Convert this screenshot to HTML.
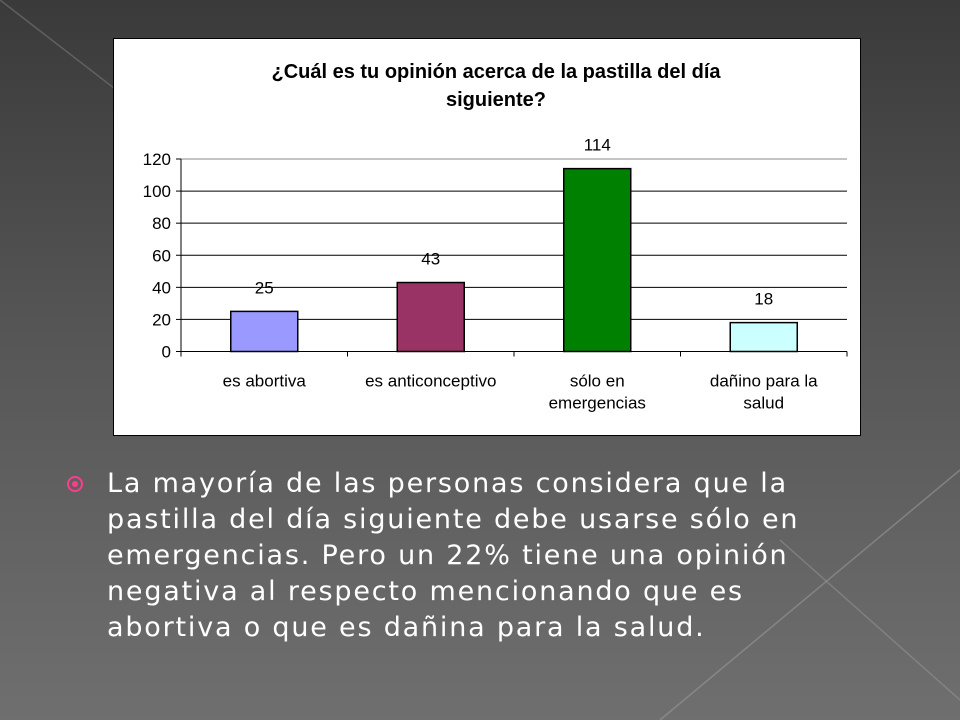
<!DOCTYPE html>
<html><head><meta charset="utf-8"><style>
body{margin:0;width:960px;height:720px;overflow:hidden;background:linear-gradient(180deg,#3a3a3a 0%,#555 45%,#6f6f6f 100%);font-family:"Liberation Sans",sans-serif;position:relative}
#bgl{position:absolute;left:0;top:0}
#chartbox{position:absolute;left:113px;top:38px;width:746px;height:396px;background:#fff;border:1px solid #000;}
#txt{position:absolute;left:107px;top:466px;width:840px;color:#fff;font-family:"DejaVu Sans",sans-serif;font-size:27px;line-height:36px;letter-spacing:1.8px;white-space:nowrap}
#bullet{position:absolute;left:67px;top:476px;width:16px;height:16px;border-radius:50%;border:2px solid #ff3c8c;box-sizing:border-box}
#bullet:after{content:"";position:absolute;left:3px;top:3px;width:6px;height:6px;border-radius:50%;background:#ff3c8c}
</style></head><body>
<svg id="bgl" width="960" height="720">
<line x1="0" y1="0" x2="220" y2="170" stroke="#777" stroke-width="1.5" opacity="0.6"/>
<line x1="960" y1="470" x2="660" y2="720" stroke="#999" stroke-width="1.5" opacity="0.6"/>
<line x1="780" y1="540" x2="960" y2="700" stroke="#999" stroke-width="1.5" opacity="0.5"/>
</svg>
<div id="chartbox">
<svg width="746" height="396" id="chart">
<text x="382" y="39" text-anchor="middle" font-size="20" font-weight="bold">¿Cuál es tu opinión acerca de la pastilla del día</text>
<text x="382" y="67" text-anchor="middle" font-size="20" font-weight="bold">siguiente?</text>
<g id="g"></g>
</svg>
</div>
<div id="bullet"></div>
<div id="txt">La mayoría de las personas considera que la<br>pastilla del día siguiente debe usarse sólo en<br>emergencias. Pero un 22% tiene una opinión<br>negativa al respecto mencionando que es<br>abortiva o que es dañina para la salud.</div>
<script>
const categories=[["es abortiva"],["es anticonceptivo"],["sólo en","emergencias"],["dañino para la","salud"]];
const values=[25,43,114,18];
const colors=["#9999ff","#993366","#008000","#ccffff"];
const ticks=[0,20,40,60,80,100,120];
const ox=113,oy=38;
const x0=180-ox,step=166.5,yMin=0,yMax=120;
const yPx=v=>350.5-oy-(v-yMin)/(yMax-yMin)*192.5;
const NS="http://www.w3.org/2000/svg";
const g=document.getElementById('g');
function mk(t,a){const e=document.createElementNS(NS,t);for(const k in a)e.setAttribute(k,a[k]);g.appendChild(e);return e;}
ticks.forEach(t=>{
 const y=yPx(t);
 const l=mk('line',{x1:x0,x2:x0+step*4,y1:y,y2:y,stroke:t===120?'#888':'#000','stroke-width':1});
 
 
 const tk=mk('line',{x1:x0-5,x2:x0,y1:y,y2:y,stroke:'#000'});
 
 
 const tx=mk('text',{x:x0-10,y:y+6,'text-anchor':'end','font-size':17});
 tx.textContent=t;
 
 
});
const ax=mk('line',{x1:x0,x2:x0,y1:yPx(120),y2:yPx(0)+5,stroke:'#000'});


for(let i=1;i<=4;i++){const t=mk('line',{x1:x0+step*i,x2:x0+step*i,y1:yPx(0),y2:yPx(0)+5,stroke:'#000'});
 
 }
values.forEach((v,i)=>{
 const cx=x0+step*(i+0.5),w=67;
 const r=mk('rect',{x:cx-w/2,y:yPx(v),width:w,height:yPx(0)-yPx(v),fill:colors[i],stroke:'#000','stroke-width':1.5});
 
 
 const lb=mk('text',{x:cx,y:yPx(v)-18,'text-anchor':'middle','font-size':17});
 lb.textContent=v;
 
 
 categories[i].forEach((s,j)=>{
  const c=mk('text',{x:cx,y:yPx(0)+35+j*22,'text-anchor':'middle','font-size':17});
  c.textContent=s;
  
  
 });
});
</script>
</body></html>
